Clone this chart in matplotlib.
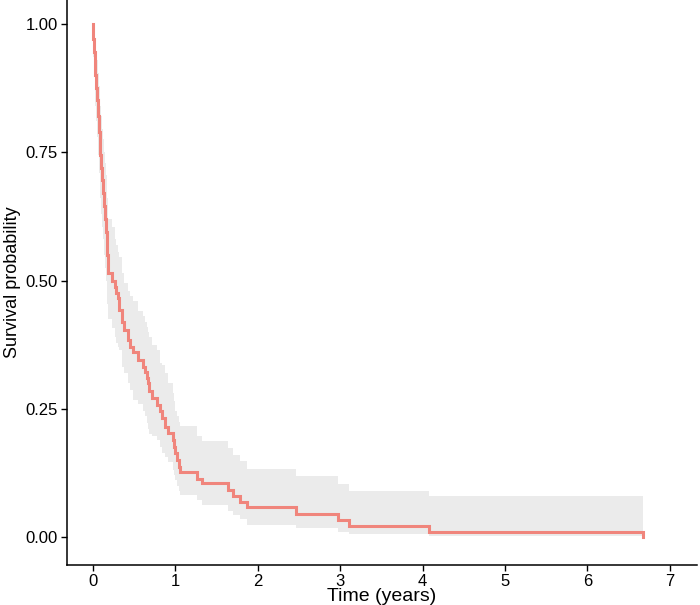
import matplotlib
matplotlib.use("Agg")
import matplotlib.pyplot as plt
import numpy as np

plt.rcParams['font.family'] = ['Liberation Sans', 'DejaVu Sans']

# Kaplan-Meier step data: event times (years), survival, CI bounds
time = [0.0, 0.003, 0.006, 0.02, 0.03, 0.04, 0.05, 0.06, 0.07, 0.08, 0.088, 0.10, 0.112,
        0.12, 0.13, 0.14, 0.152, 0.165, 0.175, 0.18, 0.185, 0.227, 0.267, 0.28, 0.30,
        0.31, 0.348, 0.376, 0.421, 0.449, 0.49, 0.55, 0.61, 0.631, 0.65, 0.665, 0.68,
        0.71, 0.78, 0.81, 0.84, 0.875, 0.91, 0.97, 0.985, 1.00, 1.02, 1.04, 1.056,
        1.26, 1.32, 1.64, 1.70, 1.78, 1.865, 2.46, 2.97, 3.11, 4.08]
surv = [1.0, 0.97, 0.946, 0.927, 0.90, 0.876, 0.852, 0.82, 0.79, 0.77, 0.745, 0.72, 0.695,
        0.67, 0.645, 0.62, 0.595, 0.57, 0.55, 0.53, 0.514, 0.50, 0.488, 0.475, 0.465,
        0.442, 0.42, 0.404, 0.384, 0.371, 0.361, 0.345, 0.332, 0.322, 0.31, 0.30, 0.285,
        0.27, 0.257, 0.245, 0.232, 0.215, 0.202, 0.189, 0.176, 0.163, 0.15, 0.137, 0.127,
        0.114, 0.105, 0.092, 0.079, 0.069, 0.058, 0.045, 0.033, 0.021, 0.0105]
lower = [1.0, 0.935, 0.90, 0.875, 0.84, 0.81, 0.78, 0.745, 0.71, 0.69, 0.66, 0.63, 0.605,
         0.58, 0.55, 0.525, 0.50, 0.475, 0.455, 0.435, 0.425, 0.407, 0.39, 0.378, 0.37,
         0.365, 0.332, 0.32, 0.30, 0.287, 0.267, 0.26, 0.245, 0.235, 0.222, 0.21, 0.20,
         0.196, 0.189, 0.175, 0.163, 0.155, 0.147, 0.131, 0.12, 0.111, 0.10, 0.09, 0.082,
         0.072, 0.062, 0.05, 0.042, 0.035, 0.023, 0.017, 0.010, 0.005, 0.001]
upper = [1.0, 1.0, 0.99, 0.98, 0.965, 0.945, 0.93, 0.905, 0.88, 0.86, 0.84, 0.82, 0.795,
         0.775, 0.75, 0.73, 0.705, 0.68, 0.66, 0.64, 0.62, 0.605, 0.58, 0.57, 0.555,
         0.546, 0.514, 0.495, 0.48, 0.47, 0.46, 0.44, 0.43, 0.42, 0.41, 0.40, 0.39,
         0.375, 0.365, 0.34, 0.335, 0.32, 0.30, 0.28, 0.265, 0.245, 0.235, 0.225, 0.217,
         0.197, 0.187, 0.173, 0.16, 0.148, 0.133, 0.118, 0.103, 0.089, 0.079]
last_time = 6.68
last_surv = 0.0

x_ticks = [0, 1, 2, 3, 4, 5, 6, 7]
y_ticks = [0.0, 0.25, 0.5, 0.75, 1.0]
y_ticklabels = ["0.00", "0.25", "0.50", "0.75", "1.00"]

fig = plt.figure(figsize=(7.0, 6.05), dpi=100)
ax = fig.add_axes([0.0957, 0.0661, 0.9, 0.9339])

t_band = time + [last_time]
lo_band = lower + [lower[-1]]
hi_band = upper + [upper[-1]]
ax.fill_between(t_band, lo_band, hi_band, step='post', color='#EBEBEB', linewidth=0)

t_line = time + [last_time, last_time]
s_line = surv + [surv[-1], last_surv]
ax.step(t_line, s_line, where='post', color='#F0857C', linewidth=2.2, solid_joinstyle='miter')

ax.set_xlim(-0.316, 7.33)
ax.set_ylim(-0.0546, 1.0468)
ax.set_xticks(x_ticks)
ax.set_yticks(y_ticks)
ax.set_yticklabels(y_ticklabels)
for s in ['top', 'right']:
    ax.spines[s].set_visible(False)
for s in ['left', 'bottom']:
    ax.spines[s].set_linewidth(1.1)
    ax.spines[s].set_color('black')
ax.tick_params(axis='both', length=4, width=1.0, colors='black', labelsize=12, pad=2.5)
ax.set_xlabel('Time (years)', fontsize=14, labelpad=-1)
ax.set_ylabel('Survival probability', fontsize=13, labelpad=3)

fig.savefig('out.png', dpi=100)
